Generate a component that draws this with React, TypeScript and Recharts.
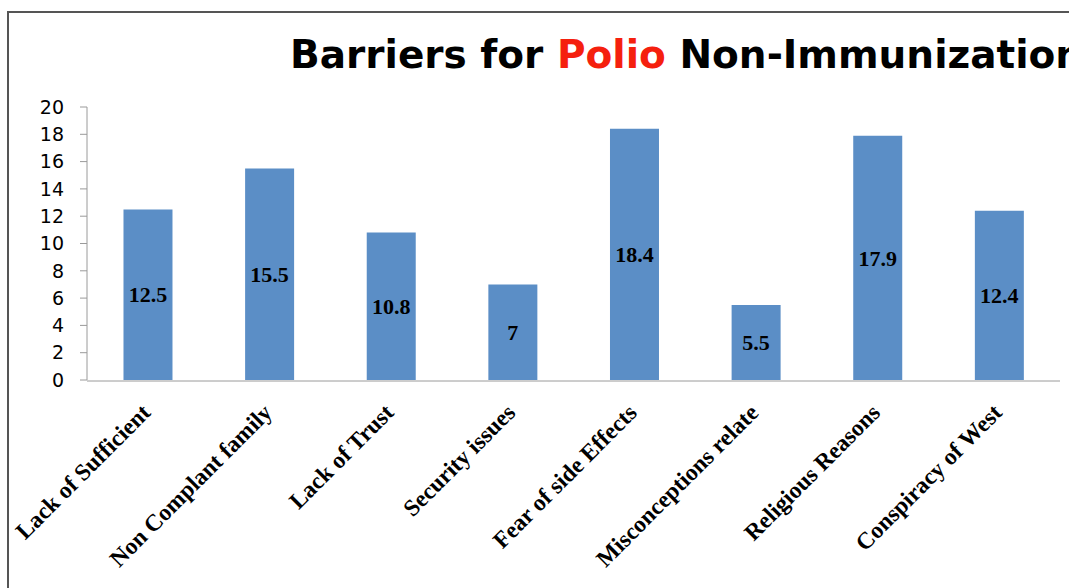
import { BarChart, Bar, XAxis, YAxis, LabelList } from "recharts";

const categories = [
  "Lack of Sufficient",
  "Non Complant family",
  "Lack of Trust",
  "Security issues",
  "Fear of side Effects",
  "Misconceptions relate",
  "Religious Reasons",
  "Conspiracy of West",
];
const values = [12.5, 15.5, 10.8, 7, 18.4, 5.5, 17.9, 12.4];
const yTicks = [0, 2, 4, 6, 8, 10, 12, 14, 16, 18, 20];
// category boundaries, Excel puts the x ticks between the bars
const edgeTicks = [0, 1, 2, 3, 4, 5, 6, 7, 8];

const data = categories.map((name, i) => ({ name, value: values[i], pos: i + 0.5 }));

const serif = "'Liberation Serif', 'Times New Roman', serif";

function SlantTick({ x, y, payload }: any) {
  const ax = x + 4;
  const ay = y + 26;
  return (
    <text
      x={ax}
      y={ay}
      transform={`rotate(-45, ${ax}, ${ay})`}
      textAnchor="end"
      fontFamily={serif}
      fontWeight="bold"
      fontSize={23.5}
      fill="#000"
    >
      {payload.value}
    </text>
  );
}

export default function App() {
  return (
    <div
      style={{
        position: "fixed",
        left: 0,
        top: 0,
        width: 1069,
        height: 588,
        overflow: "hidden",
        background: "#fff",
      }}
    >
      <div
        style={{
          position: "absolute",
          left: 7,
          top: 11,
          width: 1100,
          height: 620,
          border: "2px solid #555",
        }}
      />
      <div
        style={{
          position: "absolute",
          left: 290,
          top: 35,
          whiteSpace: "nowrap",
          fontFamily: "'DejaVu Sans', sans-serif",
          fontWeight: "bold",
          fontSize: 39,
          lineHeight: 1,
          color: "#000",
        }}
      >
        Barriers for <span style={{ color: "#f5200e" }}>Polio</span> Non-Immunization
      </div>
      <BarChart
        width={1069}
        height={588}
        data={data}
        margin={{ top: 107, right: 9, bottom: 206, left: 27 }}
        barCategoryGap="30%"
      >
        <XAxis
          xAxisId="cat"
          dataKey="name"
          interval={0}
          height={1}
          axisLine={false}
          tickLine={false}
          tick={<SlantTick />}
        />
        <XAxis
          xAxisId="edges"
          dataKey="pos"
          type="number"
          domain={[0, 8]}
          ticks={edgeTicks}
          interval={0}
          height={1}
          tick={false}
          tickSize={5}
          stroke="#9a9a9a"
          allowDataOverflow
        />
        <YAxis
          domain={[0, 20]}
          ticks={yTicks}
          interval={0}
          width={60}
          tickSize={7}
          tickMargin={16}
          stroke="#9a9a9a"
          tick={{ fill: "#000", fontSize: 19, fontFamily: "'DejaVu Sans', sans-serif" }}
        />
        <Bar xAxisId="cat" dataKey="value" fill="#5b8ec6" isAnimationActive={false}>
          <LabelList
            dataKey="value"
            position="center"
            fill="#000"
            fontFamily={serif}
            fontWeight="bold"
            fontSize={22}
          />
        </Bar>
      </BarChart>
    </div>
  );
}
